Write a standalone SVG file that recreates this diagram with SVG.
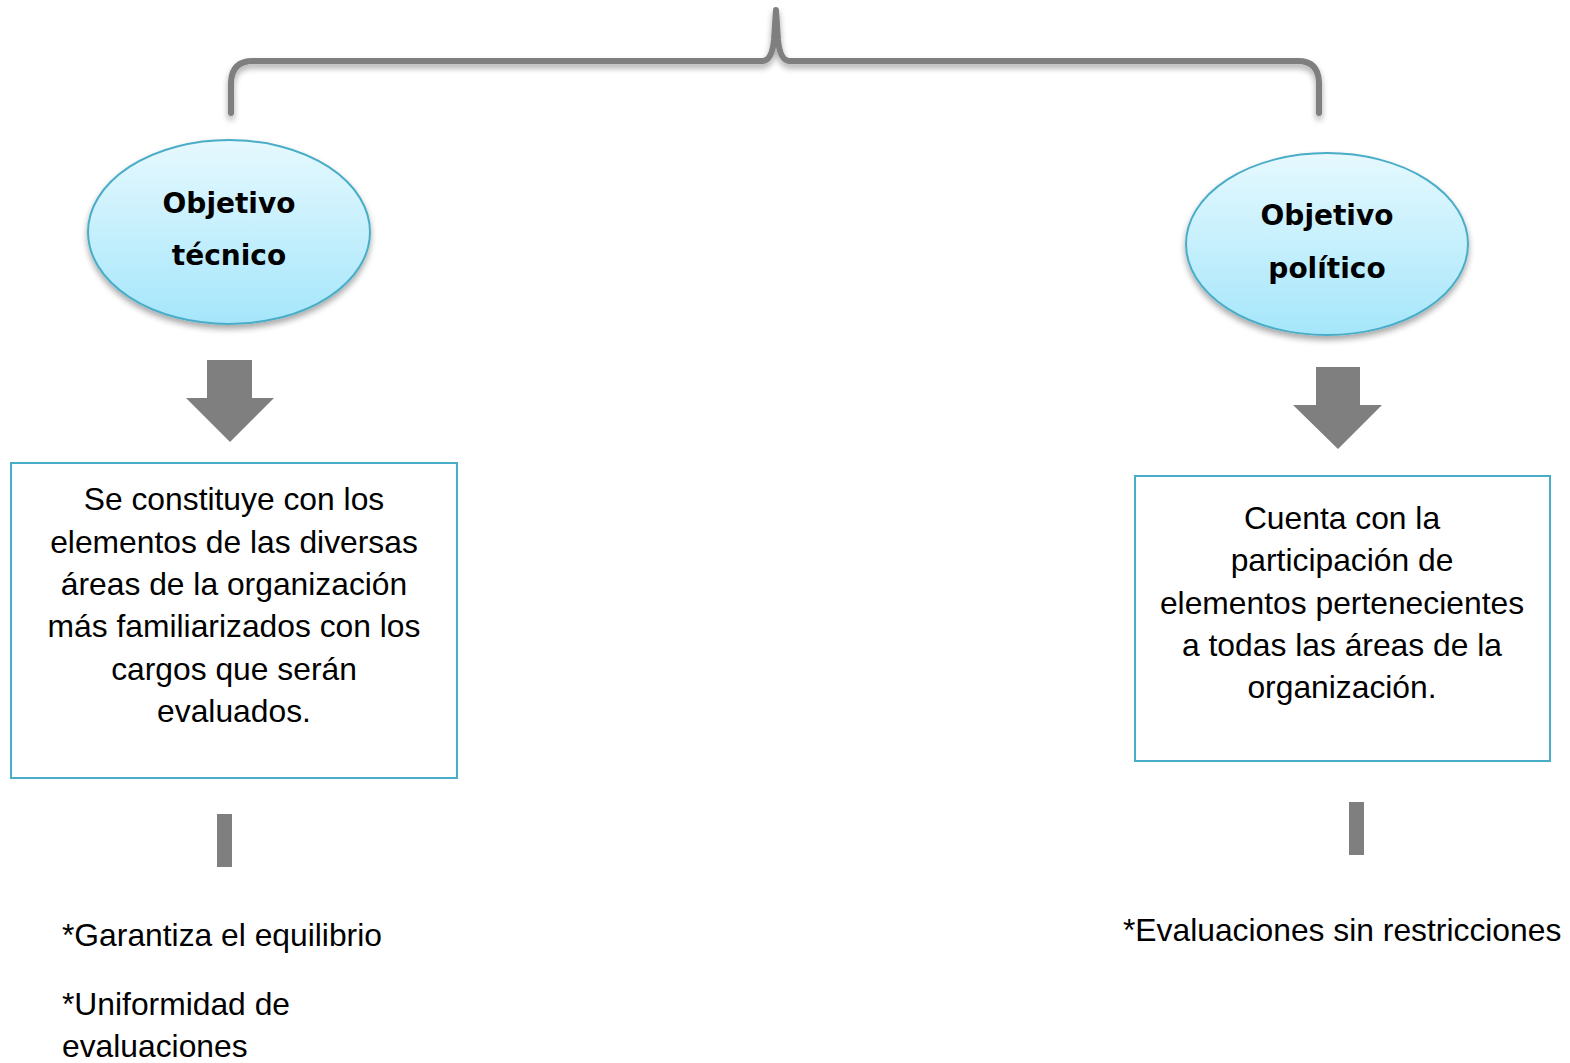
<svg xmlns="http://www.w3.org/2000/svg" width="1570" height="1063" viewBox="0 0 1570 1063">
<defs>
<linearGradient id="g" x1="0" y1="0" x2="0" y2="1">
<stop offset="0" stop-color="#e6f9fe"/>
<stop offset="1" stop-color="#a5e6fb"/>
</linearGradient>
<filter id="sh" x="-20%" y="-20%" width="140%" height="150%">
<feGaussianBlur in="SourceAlpha" stdDeviation="3"/>
<feOffset dx="0" dy="4" result="b"/>
<feComponentTransfer><feFuncA type="linear" slope="0.35"/></feComponentTransfer>
<feMerge><feMergeNode/><feMergeNode in="SourceGraphic"/></feMerge>
</filter>
</defs>
<style>
.ell{fill:url(#g);stroke:#4aadc8;stroke-width:2}
.et{font-family:"Comic Sans MS","DejaVu Sans",sans-serif;font-weight:bold;font-size:28px;fill:#000;text-anchor:middle}
.box{fill:#fff;stroke:#4aadc8;stroke-width:2}
.bt{font-family:"Liberation Sans",Arial,sans-serif;font-size:31.8px;fill:#000;text-anchor:middle}
.nt{font-family:"Liberation Sans",Arial,sans-serif;font-size:31.8px;fill:#000}
.gr{fill:#7f7f7f}
.brace{fill:none;stroke:#7f7f7f;stroke-width:6;stroke-linecap:round;stroke-linejoin:round}
</style>
<g id="connectors">
<path class="brace" filter="url(#sh)" d="M231,113 L231,82 Q232,61 253,61 L763,61 Q772,60 774,40 L776,10 L778,40 Q780,60 789,61 L1298,61 Q1318,61 1319,82 L1319,113"/>
<polygon class="gr" points="207,360 252,360 252,398 274,398 230,442 186,398 207,398"/>
<polygon class="gr" points="1316,367 1360,367 1360,405 1382,405 1338,449 1293,405 1316,405"/>
<rect class="gr" x="217" y="814" width="15" height="53"/>
<rect class="gr" x="1349" y="802" width="15" height="53"/>
</g>
<g id="node-tecnico">
<ellipse class="ell" filter="url(#sh)" cx="229" cy="232" rx="141" ry="92"/>
<text class="et" x="229" y="213">Objetivo</text>
<text class="et" x="229" y="265">técnico</text>
</g>
<g id="node-politico">
<ellipse class="ell" filter="url(#sh)" cx="1327" cy="244" rx="141" ry="91"/>
<text class="et" x="1327" y="225">Objetivo</text>
<text class="et" x="1327" y="278">político</text>
</g>
<g id="box-tecnico">
<rect class="box" x="11" y="463" width="446" height="315"/>
<text class="bt" x="234" y="510">Se constituye con los</text>
<text class="bt" x="234" y="553">elementos de las diversas</text>
<text class="bt" x="234" y="595">áreas de la organización</text>
<text class="bt" x="234" y="637">más familiarizados con los</text>
<text class="bt" x="234" y="680">cargos que serán</text>
<text class="bt" x="234" y="722">evaluados.</text>
</g>
<g id="box-politico">
<rect class="box" x="1135" y="476" width="415" height="285"/>
<text class="bt" x="1342" y="529">Cuenta con la</text>
<text class="bt" x="1342" y="571">participación de</text>
<text class="bt" x="1342" y="614">elementos pertenecientes</text>
<text class="bt" x="1342" y="656">a todas las áreas de la</text>
<text class="bt" x="1342" y="698">organización.</text>
</g>
<g id="notes-tecnico">
<text class="nt" x="62" y="946">*Garantiza el equilibrio</text>
<text class="nt" x="62" y="1015">*Uniformidad de</text>
<text class="nt" x="62" y="1057">evaluaciones</text>
</g>
<g id="notes-politico">
<text class="nt" x="1123" y="941">*Evaluaciones sin restricciones</text>
</g>
</svg>
